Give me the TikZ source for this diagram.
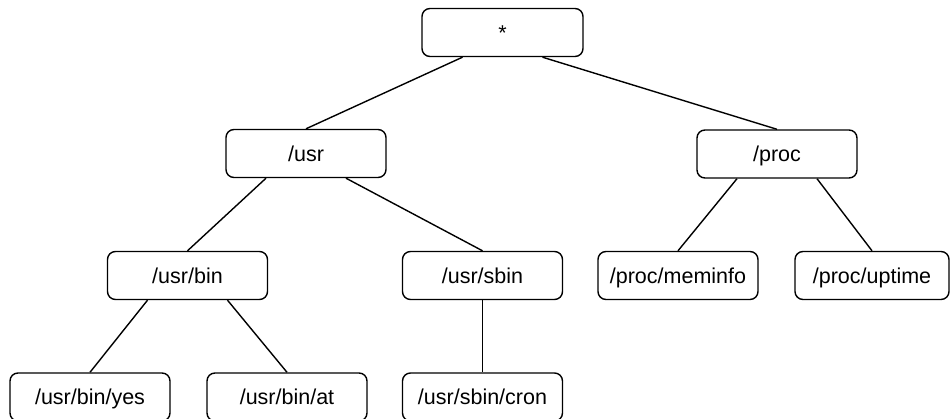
\documentclass[tikz,border=0pt]{standalone}
\usepackage{fontspec}
\setmainfont{Liberation Sans}
\begin{document}
\begin{tikzpicture}[x=1pt,y=-1pt,
  box/.style={draw=black, line width=1.4pt, rounded corners=8pt,
    minimum width=160pt, minimum height=48pt, inner sep=0pt,
    font=\fontsize{21.5}{25}\selectfont, text height=15.4pt, text depth=0pt},
  link/.style={draw=black, line width=1.4pt}]
\useasboundingbox (0,0) rectangle (950,419);
\clip (0,0) rectangle (950,419);
\node[box, minimum width=161pt] (root) at (502.5,32.5) {*};
\node[box] (usr) at (306,153.5) {/usr};
\node[box] (proc) at (777,154) {/proc};
\node[box] (usrbin) at (187.5,275.5) {/usr/bin};
\node[box] (usrsbin) at (482.5,275.5) {/usr/sbin};
\node[box] (meminfo) at (678,275.5) {/proc/meminfo};
\node[box, minimum width=154pt] (uptime) at (872,275.5) {/proc/uptime};
\node[box] (yes) at (90,397) {/usr/bin/yes};
\node[box] (at) at (287,397) {/usr/bin/at};
\node[box] (cron) at (482.5,397) {/usr/sbin/cron};
\draw[link] ([xshift=-40pt]root.south) -- (usr.north);
\draw[link] ([xshift=40pt]root.south) -- (proc.north);
\draw[link] ([xshift=-40pt]usr.south) -- (usrbin.north);
\draw[link] ([xshift=40pt]usr.south) -- (usrsbin.north);
\draw[link] (usrsbin.south) -- (cron.north);
\draw[link] ([xshift=-40pt]proc.south) -- (meminfo.north);
\draw[link] ([xshift=40pt]proc.south) -- (uptime.north);
\draw[link] ([xshift=-40pt]usrbin.south) -- (yes.north);
\draw[link] ([xshift=40pt]usrbin.south) -- (at.north);
\end{tikzpicture}
\end{document}
